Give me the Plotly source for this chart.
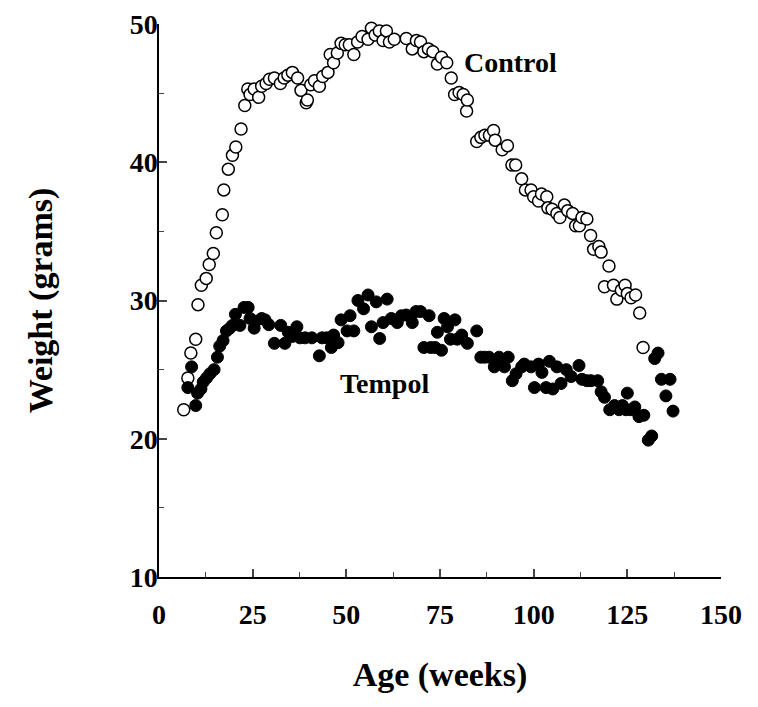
import plotly.graph_objects as go

# Control group (open circles): age in weeks, weight in grams
control_age = [6.6, 7.7, 8.5, 9.8, 10.4, 11.3, 12.6, 13.4, 14.5, 15.3, 16.9, 17.3, 18.5, 19.6, 20.5,
               21.9, 22.9, 23.7, 24.3, 25.4, 26.6, 27.4, 28.6, 29.5, 30.8, 32.4, 33.4, 34.4, 35.6,
               37.0, 37.9, 39.3, 39.6, 40.5, 41.5, 42.8, 43.7, 45.1, 45.7, 46.6, 47.6, 48.6, 49.7,
               50.8, 52.0, 53.0, 54.2, 55.8, 56.7, 57.7, 58.8, 59.8, 60.7, 61.5, 62.8, 66.0, 67.6,
               68.7, 69.8, 70.7, 71.9, 73.1, 74.3, 75.4, 76.8, 78.0, 78.9, 80.1, 81.2, 82.1, 82.3,
               84.8, 85.9, 87.0, 88.2, 89.3, 89.7, 91.6, 93.0, 94.2, 95.2, 96.8, 97.8, 99.3, 100.0,
               101.3, 102.1, 103.5, 103.8, 104.9, 106.2, 107.0, 108.2, 109.1, 110.4, 111.2, 112.2,
               112.9, 114.2, 115.2, 116.0, 117.4, 118.0, 118.9, 120.1, 121.3, 122.2, 123.4, 124.4,
               125.0, 126.0, 127.2, 128.3, 129.2]
control_weight = [22.1, 24.4, 26.2, 27.2, 29.7, 31.1, 31.6, 32.6, 33.4, 34.9, 36.2, 38.0, 39.5, 40.5, 41.1,
                  42.4, 44.1, 45.3, 44.9, 45.3, 44.7, 45.5, 45.7, 46.0, 46.1, 45.7, 46.1, 46.3, 46.5,
                  46.1, 45.2, 44.3, 44.5, 45.6, 45.9, 45.5, 46.2, 46.5, 47.8, 47.2, 47.9, 48.6, 48.5,
                  48.5, 47.8, 48.7, 49.1, 48.9, 49.7, 49.2, 49.5, 48.8, 49.5, 48.7, 48.9, 48.95, 48.2,
                  48.8, 48.7, 48.0, 48.2, 48.0, 47.1, 47.6, 47.2, 46.1, 44.9, 45.05, 44.9, 43.7, 44.5,
                  41.5, 41.8, 41.95, 41.95, 42.3, 41.6, 40.9, 41.2, 39.8, 39.8, 38.8, 38.0, 38.0, 37.5,
                  37.2, 37.7, 37.5, 36.7, 36.6, 36.3, 36.0, 36.9, 36.5, 36.3, 35.4, 35.4,
                  36.0, 35.9, 34.7, 33.7, 33.9, 33.5, 31.0, 32.5, 31.1, 30.1, 30.75, 31.1,
                  30.5, 30.2, 30.4, 29.1, 26.6]

# Tempol group (filled circles)
tempol_age = [7.7, 8.7, 9.8, 10.3, 11.2, 11.8, 12.7, 13.6, 14.7, 15.6, 16.2, 17.1, 18.0, 18.9, 19.6,
              20.4, 21.6, 22.7, 23.8, 24.3, 25.4, 25.8, 27.4, 28.3, 29.3, 30.8, 32.5, 33.6, 34.5,
              35.6, 36.8, 37.6, 39.0, 40.8, 42.8, 43.5, 44.8, 46.0, 46.6, 47.8, 48.6, 50.2, 51.0,
              52.0, 53.1, 54.6, 55.8, 56.7, 58.0, 58.9, 59.8, 60.9, 62.0, 63.6, 64.7, 66.0, 67.6,
              68.6, 69.8, 70.7, 72.1, 72.5, 73.7, 74.3, 75.4, 76.1, 77.0, 77.8, 79.0, 79.6, 80.8,
              82.3, 84.8, 85.9, 86.9, 88.1, 89.5, 90.8, 92.2, 93.2, 94.3, 95.3, 96.8, 97.5, 99.3,
              100.2, 101.3, 102.2, 103.3, 104.2, 105.1, 106.2, 107.3, 108.7, 110.0, 112.1, 112.9,
              114.2, 115.3, 117.1, 118.0, 118.9, 120.3, 121.6, 122.8, 123.7, 124.6, 125.0, 125.9,
              127.0, 128.1, 129.4, 130.6, 131.5, 132.3, 133.2, 134.1, 135.3, 136.4, 137.2]
tempol_weight = [23.7, 25.2, 22.4, 23.3, 23.6, 24.1, 24.4, 24.7, 25.0, 25.9, 26.7, 27.1, 27.8, 28.0, 28.2,
                 29.0, 28.2, 29.5, 29.5, 28.7, 28.0, 28.5, 28.7, 28.6, 28.25, 26.9, 28.2, 26.9, 27.7,
                 27.4, 28.1, 27.3, 27.3, 27.3, 26.0, 27.3, 27.3, 26.6, 27.5, 26.95, 28.6, 27.8, 28.9,
                 27.8, 30.0, 29.4, 30.4, 28.1, 29.9, 27.25, 28.4, 30.1, 28.7, 28.4, 28.9, 28.95, 28.4,
                 29.2, 29.2, 26.6, 28.9, 26.6, 26.6, 27.7, 26.4, 28.7, 28.1, 27.2, 28.6, 27.2, 27.5,
                 26.9, 27.8, 25.9, 25.9, 25.9, 25.2, 25.9, 25.2, 25.9, 24.2, 24.7, 25.2, 25.4, 25.2,
                 23.7, 25.4, 24.8, 23.7, 25.6, 23.6, 25.2, 24.0, 25.0, 24.5, 25.3, 24.3,
                 24.2, 24.2, 24.2, 23.4, 23.0, 22.1, 22.4, 22.1, 22.4, 22.1, 23.3, 22.1,
                 22.3, 21.6, 21.7, 19.9, 20.2, 25.8, 26.2, 24.3, 23.1, 24.3, 22.0]

x_ticks = [0, 25, 50, 75, 100, 125, 150]
y_ticks = [10, 20, 30, 40, 50]

font_family = "Liberation Serif"

fig = go.Figure()
fig.add_trace(go.Scatter(x=control_age, y=control_weight, mode="markers", name="Control", cliponaxis=False,
                         marker=dict(size=12, color="white", line=dict(color="black", width=1.5))))
fig.add_trace(go.Scatter(x=tempol_age, y=tempol_weight, mode="markers", name="Tempol", cliponaxis=False,
                         marker=dict(size=12, color="black", line=dict(color="black", width=1))))

fig.add_annotation(x=93.9, y=47.2, text="<b>Control</b>", showarrow=False,
                   font=dict(family=font_family, size=28, color="black"))
fig.add_annotation(x=60.3, y=24.0, text="<b>Tempol</b>", showarrow=False,
                   font=dict(family=font_family, size=28, color="black"))

# page body adds an 8px offset, so margins are shifted to compensate
fig.update_layout(
    width=758, height=707,
    margin=dict(l=151, r=45, t=16, b=138),
    plot_bgcolor="white", paper_bgcolor="white",
    showlegend=False,
    font=dict(family=font_family, size=22, color="black"),
    xaxis=dict(
        range=[0, 150], tickvals=x_ticks, ticks="inside", ticklen=8, tickwidth=1.5,
        tickfont=dict(family=font_family, size=28, weight="bold"), ticklabelstandoff=12,
        ticklabeloverflow="allow",
        showgrid=False, zeroline=False, automargin=False,
        showline=True, linecolor="black", linewidth=1.5,
        minor=dict(ticks="inside", ticklen=5, dtick=12.5, tickwidth=1, showgrid=False),
        title=dict(text="<b>Age (weeks)</b>", font=dict(family=font_family, size=34), standoff=33),
    ),
    yaxis=dict(
        range=[10, 50], tickvals=y_ticks, ticks="inside", ticklen=8, tickwidth=1.5,
        tickfont=dict(family=font_family, size=28, weight="bold"), ticklabelstandoff=-6,
        ticklabeloverflow="allow",
        showgrid=False, zeroline=False, automargin=False,
        showline=True, linecolor="black", linewidth=1.5,
        minor=dict(ticks="inside", ticklen=5, dtick=5, tickwidth=1, showgrid=False),
        title=dict(text="<b>Weight (grams)</b>", font=dict(family=font_family, size=34), standoff=67),
    ),
)

fig.write_html("out.html")
